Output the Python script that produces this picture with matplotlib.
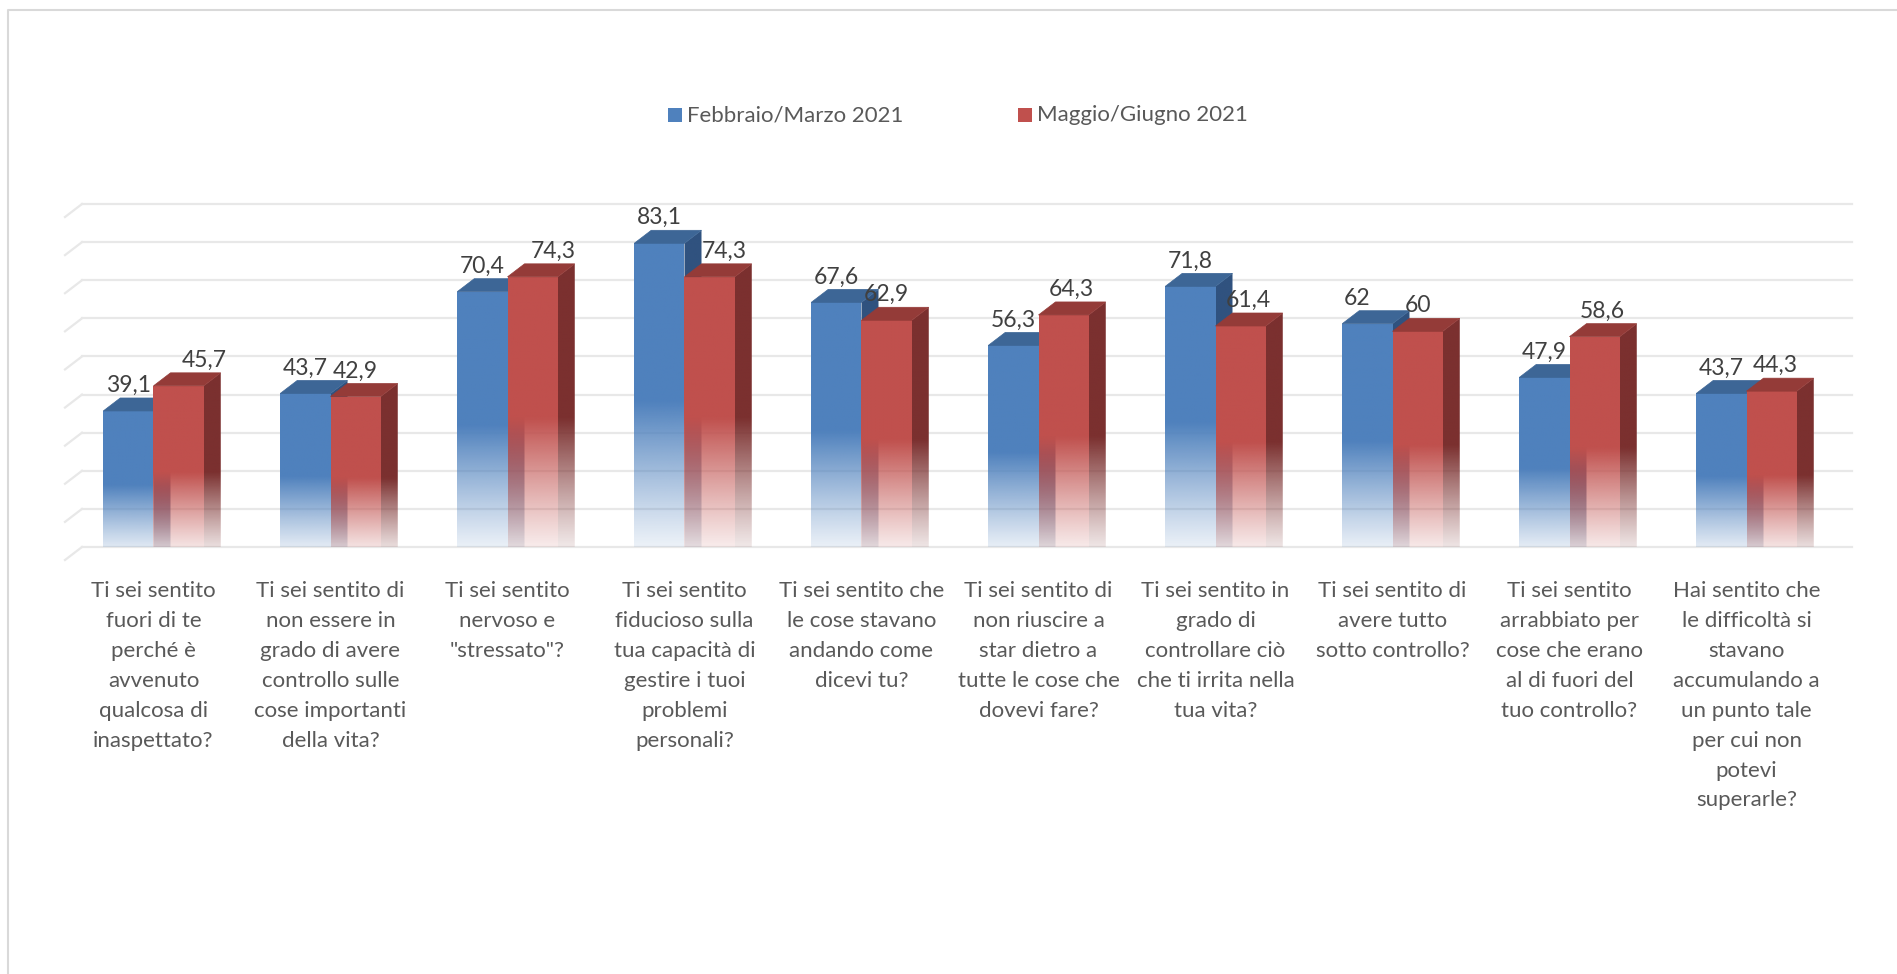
import numpy as np
import matplotlib
matplotlib.use("Agg")
import matplotlib.pyplot as plt
from matplotlib.patches import Polygon, Rectangle
from matplotlib.lines import Line2D
from matplotlib.colors import to_rgb

plt.rcParams['font.family'] = ['Lato', 'DejaVu Sans']

# ---------------- data ----------------
categories = [
    "Ti sei sentito\nfuori di te\nperché è\navvenuto\nqualcosa di\ninaspettato?",
    "Ti sei sentito di\nnon essere in\ngrado di avere\ncontrollo sulle\ncose importanti\ndella vita?",
    "Ti sei sentito\nnervoso e\n\"stressato\"?",
    "Ti sei sentito\nfiducioso sulla\ntua capacità di\ngestire i tuoi\nproblemi\npersonali?",
    "Ti sei sentito che\nle cose stavano\nandando come\ndicevi tu?",
    "Ti sei sentito di\nnon riuscire a\nstar dietro a\ntutte le cose che\ndovevi fare?",
    "Ti sei sentito in\ngrado di\ncontrollare ciò\nche ti irrita nella\ntua vita?",
    "Ti sei sentito di\navere tutto\nsotto controllo?",
    "Ti sei sentito\narrabbiato per\ncose che erano\nal di fuori del\ntuo controllo?",
    "Hai sentito che\nle difficoltà si\nstavano\naccumulando a\nun punto tale\nper cui non\npotevi\nsuperarle?",
]
series_names = ["Febbraio/Marzo 2021", "Maggio/Giugno 2021"]
feb_mar = [39.1, 43.7, 70.4, 83.1, 67.6, 56.3, 71.8, 62.0, 47.9, 43.7]
mag_giu = [45.7, 42.9, 74.3, 74.3, 62.9, 64.3, 61.4, 60.0, 58.6, 44.3]
grid_values = list(range(0, 100, 10))

# ---------------- style ----------------
W, H = 1897, 974
BLUE = dict(front="#4F81BD", side="#30527F", top="#3D6696")
RED = dict(front="#C0504D", side="#7B302F", top="#943B38")
GRID = "#E8E8E8"
DEPTH_PX = np.array([17.0, 13.0])
BAR_W = 0.284
FADE_START = 0.5
# label nudges (pixels) to mimic the reference placement
NUDGE_BLUE = [0, 0, 0, 0, 0, 0, 0, -10, 0, 0]
NUDGE_RED = [26, 0, 21, 15, 0, 8, 8, 0, 8, 4]

fig = plt.figure(figsize=(W / 100, H / 100), dpi=100)
fig.patch.set_facecolor("white")
ax = fig.add_axes([82 / W, 1 - 547 / H, 1770 / W, 343 / H])
ax.set_xlim(-0.5, len(categories) - 0.5)
ax.set_ylim(0, 90)
ax.set_autoscale_on(False)
ax.axis("off")

o = ax.transData.transform((0, 0))
dx, dy = ax.transData.inverted().transform(o + DEPTH_PX)

# gridlines on back wall + slanted side-wall edge
for g in grid_values:
    ax.add_line(Line2D([-0.5, len(categories) - 0.5], [g, g], color=GRID, lw=1.6,
                       zorder=1, clip_on=False))
    ax.add_line(Line2D([-0.5 - dx, -0.5], [g - dy, g], color=GRID, lw=1.6,
                       zorder=1, clip_on=False))

zc = [2]


def grad_face(xy, color, v):
    xy = np.asarray(xy)
    x0, x1 = xy[:, 0].min(), xy[:, 0].max()
    y0, y1 = xy[:, 1].min(), xy[:, 1].max()
    yy = np.linspace(y0, y1, 400)
    frac = np.clip((yy + dy) / (v), 0, 1)
    t = np.clip(frac / FADE_START, 0, 1)
    alpha = 0.05 + 0.95 * t ** 1.15
    arr = np.zeros((len(yy), 1, 4))
    arr[..., :3] = to_rgb(color)
    arr[..., 3] = alpha[:, None]
    patch = Polygon(xy, closed=True, transform=ax.transData,
                    facecolor="none", edgecolor="none")
    ax.imshow(arr, extent=(x0, x1, y0, y1), origin="lower", aspect="auto",
              interpolation="bilinear", zorder=zc[0], clip_path=patch)
    zc[0] += 1


def solid_face(xy, color):
    ax.add_patch(Polygon(xy, closed=True, facecolor=color, edgecolor=color,
                         lw=0.5, zorder=zc[0], clip_on=False))
    zc[0] += 1


def bar3d(xl_b, v, col):
    xr_b = xl_b + BAR_W
    xl_f, xr_f = xl_b - dx, xr_b - dx
    front = [(xl_f, -dy), (xr_f, -dy), (xr_f, v - dy), (xl_f, v - dy)]
    side = [(xr_f, -dy), (xr_b, 0), (xr_b, v), (xr_f, v - dy)]
    top = [(xl_f, v - dy), (xr_f, v - dy), (xr_b, v), (xl_b, v)]
    grad_face(side, col["side"], v)
    grad_face(front, col["front"], v)
    solid_face(top, col["top"])
    return (xl_f + xr_f) / 2


def fmt(v):
    return f"{v:g}".replace(".", ",")


for i in range(len(categories)):
    cb = bar3d(i - BAR_W, feb_mar[i], BLUE)
    cr = bar3d(i, mag_giu[i], RED)
    ax.annotate(fmt(feb_mar[i]), xy=(cb, feb_mar[i]), xytext=(NUDGE_BLUE[i], 6),
                textcoords="offset pixels", ha="center", va="baseline",
                fontsize=16.5, color="#404040", zorder=100, annotation_clip=False)
    ax.annotate(fmt(mag_giu[i]), xy=(cr, mag_giu[i]), xytext=(NUDGE_RED[i], 6),
                textcoords="offset pixels", ha="center", va="baseline",
                fontsize=16.5, color="#404040", zorder=100, annotation_clip=False)
    ax.annotate(categories[i], xy=(i - dx, 0), xytext=(0, -34),
                textcoords="offset pixels", ha="center", va="top",
                fontsize=16, color="#595959", linespacing=1.62,
                annotation_clip=False)

ax.set_xlim(-0.5, len(categories) - 0.5)
ax.set_ylim(0, 90)

# legend (manual)
for name, col, xm in [(series_names[0], BLUE, 668), (series_names[1], RED, 1018)]:
    fig.add_artist(Rectangle((xm / W, 1 - 122 / H), 14 / W, 14 / H,
                             transform=fig.transFigure, facecolor=col["front"],
                             edgecolor="none"))
    fig.text((xm + 19) / W, 1 - 115 / H, name, ha="left", va="center",
             fontsize=16, color="#595959")

# chart frame
fig.add_artist(Line2D([7.5 / W, 7.5 / W, 1.0], [0.0, 1 - 9.5 / H, 1 - 9.5 / H],
                      transform=fig.transFigure, color="#D9D9D9", lw=1.5))

fig.savefig("out.png", dpi=100, facecolor="white")
